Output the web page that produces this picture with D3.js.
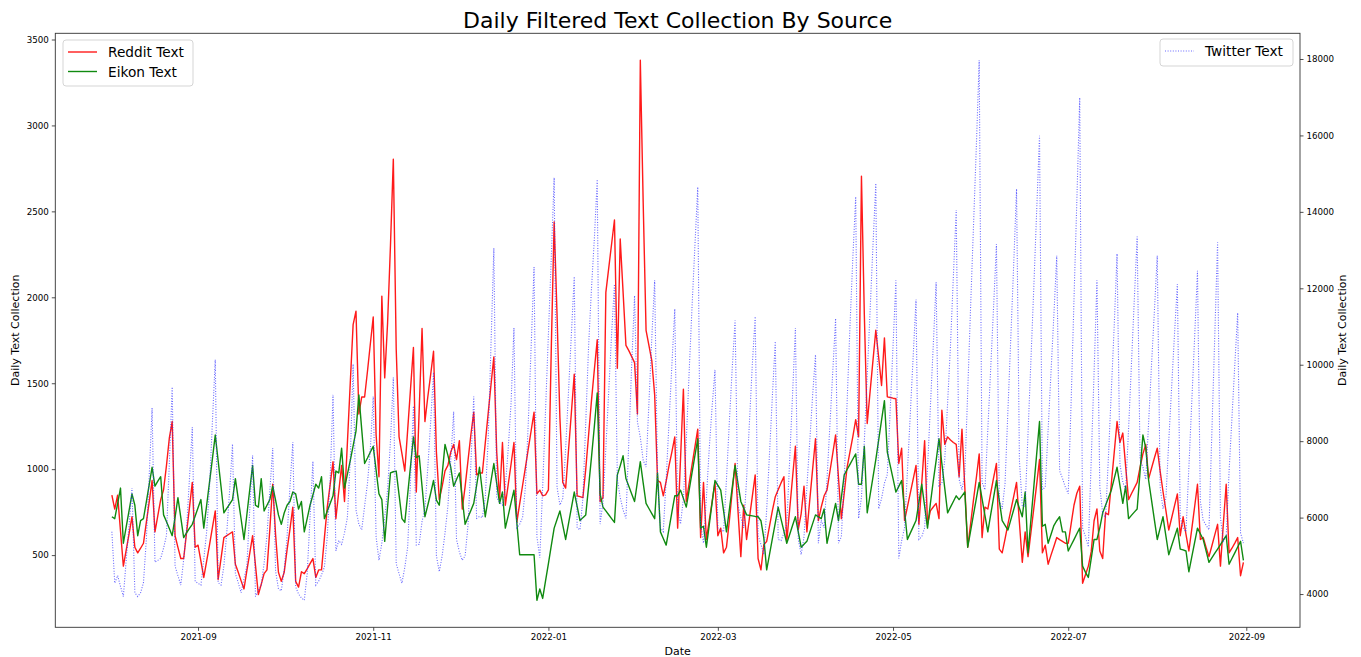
<!DOCTYPE html>
<html>
<head>
<meta charset="utf-8">
<script src="https://cdnjs.cloudflare.com/ajax/libs/d3/7.8.5/d3.min.js"></script>
<style>
  body { margin: 0; background: #fff; }
  text { font-family: "DejaVu Sans", sans-serif; fill: #000; }
</style>
</head>
<body>
<div id="chart"></div>
<script>
// daily values, first day is 2021-08-02, one row per week
const startDay = '2021-08-02';

const redditText = [
  849, 768, 849, 640, 436, 530, 625,
  723, 546, 513, 540, 569, 690, 810,
  934, 635, 730, 823, 880, 1020, 1180,
  1277, 613, 545, 480, 480, 630, 775,
  923, 546, 558, 465, 370, 465, 560,
  660, 757, 358, 480, 602, 613, 624,
  635, 447, 400, 350, 303, 410, 510,
  613, 440, 270, 330, 392, 414, 650,
  912, 620, 400, 347, 400, 530, 650,
  779, 347, 314, 403, 392, 420, 450,
  480, 370, 414, 414, 600, 779, 910,
  1044, 712, 870, 1022, 812, 1150, 1500,
  1841, 1919, 1321, 1420, 1420, 1570, 1730,
  1885, 1200, 956, 2007, 1531, 1850, 2300,
  2804, 1700, 1188, 1090, 989, 1230, 1470,
  1708, 867, 1340, 1819, 1277, 1420, 1550,
  1686, 1100, 823, 900, 990, 1022, 1100,
  1144, 1056, 1166, 768, 900, 1050, 1200,
  1332, 967, 978, 978, 1150, 1320, 1490,
  1653, 1100, 823, 1155, 790, 910, 1030,
  1155, 690, 800, 905, 1010, 1120, 1225,
  1332, 856, 878, 845, 850, 880, 1700,
  2439, 1900, 1300, 923, 890, 1110, 1330,
  1553, 845, 840, 834, 1000, 1200, 1400,
  1580, 1753, 812, 834, 2029, 2170, 2310,
  2450, 1587, 2339, 2030, 1720, 1690, 1655,
  1620, 1321, 3379, 2550, 1808, 1720, 1631,
  1432, 934, 923, 845, 930, 1020, 1100,
  1188, 657, 1060, 1465, 812, 918, 1024,
  1128, 1233, 602, 923, 591, 700, 810,
  923, 613, 657, 513, 546, 700, 870,
  1033, 760, 491, 790, 591, 716, 842,
  967, 480, 414, 560, 580, 670, 760,
  840, 880, 920, 956, 580, 765, 950,
  1133, 650, 740, 901, 635, 820, 1000,
  1177, 701, 780, 845, 878, 985, 1090,
  1199, 950, 712, 860, 1011, 1100, 1190,
  1288, 1188, 2704, 1900, 1266, 1450, 1630,
  1808, 1650, 1487, 1764, 1421, 1417, 1413,
  1410, 1033, 1122, 701, 780, 860, 940,
  1022, 679, 920, 1166, 679, 757, 780,
  801, 712, 1343, 1144, 1188, 1170, 1155,
  1144, 956, 1233, 890, 546, 680, 820,
  950, 1089, 602, 779, 768, 860, 950,
  1033, 535, 513, 595, 680, 760, 840,
  923, 690, 458, 635, 491, 630, 770,
  910, 1056, 513, 558, 447, 500, 550,
  602, 590, 580, 569, 569, 680, 790,
  860, 901, 336, 386, 436, 520, 700,
  768, 524, 480, 746, 735, 915, 1095,
  1277, 1155, 1210, 1015, 823, 857, 890,
  923, 1011, 1089, 1144, 945, 1005, 1065,
  1122, 989, 870, 760, 646, 716, 786,
  856, 613, 723, 620, 524, 650, 780,
  912, 591, 602, 545, 491, 553, 616,
  679, 436, 680, 912, 513, 540, 570,
  602, 380, 458
];

const eikonText = [
  723, 712, 800, 890, 569, 665, 760,
  856, 790, 613, 701, 712, 810, 910,
  1011, 901, 930, 956, 734, 695, 655,
  613, 720, 834, 718, 602, 630, 655,
  679, 727, 775, 823, 657, 790, 925,
  1060, 1199, 1050, 900, 746, 772, 797,
  823, 945, 827, 710, 591, 735, 880,
  1022, 790, 779, 945, 757, 790, 823,
  901, 820, 734, 679, 745, 790, 812,
  867, 856, 768, 812, 635, 712, 790,
  850, 912, 890, 956, 712, 756, 800,
  845, 989, 978, 1122, 890, 970, 1050,
  1135, 1222, 1432, 1230, 1033, 1065, 1100,
  1133, 995, 856, 823, 580, 780, 978,
  985, 989, 850, 712, 690, 855, 1020,
  1188, 1067, 1078, 900, 723, 790, 860,
  934, 820, 790, 970, 1144, 1080, 1011,
  901, 940, 978, 830, 679, 720, 760,
  801, 905, 1011, 870, 723, 826, 930,
  1033, 917, 801, 867, 657, 730, 805,
  878, 690, 502, 502, 502, 502, 502,
  502, 237, 303, 248, 350, 450, 555,
  657, 707, 757, 674, 591, 683, 775,
  867, 784, 701, 718, 734, 900, 1070,
  1250, 1443, 856, 779, 757, 735, 712,
  690, 967, 1020, 1078, 945, 900, 856,
  812, 928, 1044, 920, 801, 771, 741,
  712, 978, 635, 597, 558, 654, 750,
  845, 845, 878, 830, 779, 878, 978,
  1077, 1177, 657, 668, 546, 675, 805,
  934, 906, 878, 757, 635, 764, 893,
  1022, 917, 812, 773, 734, 731, 728,
  725, 723, 700, 600, 414, 505, 597,
  688, 779, 709, 639, 569, 620, 672,
  723, 635, 546, 563, 580, 631, 683,
  734, 723, 712, 768, 569, 646, 724,
  801, 701, 834, 967, 998, 1028, 1059,
  1089, 912, 912, 1133, 746, 849, 952,
  1056, 1170, 1285, 1399, 1100, 1022, 945,
  867, 900, 934, 762, 591, 628, 664,
  701, 806, 912, 785, 657, 800, 930,
  1050, 1177, 1033, 890, 746, 779, 812,
  845, 823, 845, 867, 546, 640, 735,
  829, 923, 827, 731, 635, 735, 834,
  934, 817, 701, 673, 646, 705, 764,
  823, 773, 723, 867, 513, 704, 895,
  1086, 1277, 668, 679, 569, 620, 672,
  700, 723, 635, 635, 524, 557, 590,
  624, 657, 436, 400, 370, 480, 591,
  591, 660, 746, 790, 834, 878, 945,
  1011, 906, 801, 901, 712, 731, 750,
  768, 984, 1199, 1122, 934, 820, 705,
  591, 657, 723, 612, 502, 554, 605,
  657, 535, 530, 524, 403, 488, 572,
  657, 624, 591, 525, 458, 484, 510,
  535, 561, 587, 613, 447, 480, 513,
  547, 580, 469
];

const twitterText = [
  5630, 4285, 4485, 4200, 3936, 4900, 5800,
  6776, 4036, 3936, 4036, 4300, 5430, 7100,
  8869, 4833, 4880, 4933, 5200, 5530, 7400,
  9416, 4734, 4480, 4235, 4900, 5700, 7000,
  8370, 4335, 4280, 4235, 4900, 5630, 6800,
  8500, 10134, 4300, 4235, 4734, 5600, 6700,
  7922, 4534, 4300, 4036, 4400, 4734, 6200,
  7623, 3936, 4100, 4235, 4800, 5530, 6700,
  7822, 4600, 4135, 4085, 4634, 5500, 6800,
  7972, 4185, 4000, 3900, 3836, 4534, 6000,
  7474, 4235, 4335, 4500, 4700, 5500, 7000,
  9217, 5132, 5400, 5300, 5600, 6000, 7500,
  10014, 6200, 5830, 5680, 6300, 6900, 7800,
  9167, 5500, 4883, 5330, 6000, 6727, 8000,
  9666, 4800, 4534, 4285, 4700, 5232, 7000,
  8918, 5282, 5300, 5900, 6228, 7300, 8500,
  9800, 5000, 4584, 5000, 5600, 6300, 7500,
  8770, 5430, 5100, 4883, 5000, 5800, 7400,
  9167, 5980, 6030, 6000, 6500, 8000, 10500,
  13054, 6528, 6400, 6328, 6800, 7800, 9000,
  10961, 5730, 5830, 6000, 6800, 8500, 10500,
  12555, 5500, 4950, 6800, 8800, 10800, 12800,
  14897, 6800, 6328, 6500, 7800, 9300, 10800,
  12306, 5730, 5680, 6500, 8500, 10500, 12000,
  13300, 14847, 5830, 6400, 7800, 9300, 10800,
  12107, 7000, 6527, 6200, 5980, 8000, 10000,
  11808, 8500, 8100, 7500, 7324, 9000, 10700,
  12207, 7000, 5730, 5630, 7000, 8500, 10000,
  11459, 6228, 5830, 6500, 8000, 9800, 11500,
  13100, 14648, 5830, 5332, 6500, 7800, 8900,
  9865, 5730, 5680, 5630, 7000, 8500, 9900,
  11160, 6328, 6000, 5730, 7000, 8500, 10000,
  11260, 5530, 5300, 5033, 6200, 7700, 9200,
  10612, 5430, 5400, 5600, 5830, 7500, 9200,
  10961, 5430, 5033, 5500, 6800, 8000, 9200,
  10264, 5332, 5930, 5730, 7000, 8400, 9800,
  11210, 5332, 5500, 7000, 9000, 11000, 12800,
  14399, 5980, 6528, 8000, 9700, 11400, 13100,
  14747, 6229, 6500, 6900, 7125, 8800, 10500,
  12207, 4932, 5400, 5730, 7200, 8700, 10200,
  11708, 5430, 5500, 5730, 7300, 8900, 10500,
  12157, 6826, 6900, 7500, 9000, 10500, 12300,
  14050, 7000, 6727, 7146, 9300, 11500, 13600,
  15700, 17966, 6926, 6727, 8300, 9900, 11500,
  13153, 6428, 6228, 6900, 8800, 10700, 12600,
  14598, 7500, 6300, 6300, 8200, 10100, 12000,
  14000, 15993, 6727, 6800, 8300, 9800, 11300,
  12854, 7225, 7025, 6800, 6627, 9000, 11700,
  14300, 16989, 5730, 5500, 5232, 7500, 9800,
  12207, 6800, 6100, 6000, 7600, 9300, 11000,
  12904, 7400, 6926, 6727, 8300, 10000, 11700,
  13353, 7524, 7324, 7000, 8500, 10000, 11400,
  12854, 6800, 6228, 6500, 8000, 9400, 10800,
  12107, 6000, 5730, 5630, 7300, 9000, 10700,
  12456, 6428, 5930, 5800, 5680, 8200, 10700,
  13203, 6000, 5382, 5500, 7200, 8600, 10000,
  11360, 5600, 5332
];

const leftTicks = [500, 1000, 1500, 2000, 2500, 3000, 3500];
const rightTicks = [4000, 6000, 8000, 10000, 12000, 14000, 16000, 18000];
const monthTicks = ['2021-09', '2021-11', '2022-01', '2022-03', '2022-05', '2022-07', '2022-09'];

const width = 1361, height = 657;
const margin = {top: 33.3, right: 61, bottom: 29.7, left: 55.3};
const innerW = width - margin.left - margin.right;
const innerH = height - margin.top - margin.bottom;

const parseDay = d3.timeParse('%Y-%m-%d');
const parseMonth = d3.timeParse('%Y-%m');
const day0 = parseDay(startDay);
const dates = redditText.map((_, i) => d3.timeDay.offset(day0, i));

// matplotlib style 5% padding round the data
function padded(lo, hi) {
    const pad = (hi - lo) * 0.05;
    return [lo - pad, hi + pad];
}

const t0 = +dates[0], t1 = +dates[dates.length - 1];
const x = d3.scaleTime()
    .domain(padded(t0, t1).map(t => new Date(t)))
    .range([0, innerW]);

const leftExt = d3.extent(redditText.concat(eikonText));
const yLeft = d3.scaleLinear().domain(padded(leftExt[0], leftExt[1])).range([innerH, 0]);

const rightExt = d3.extent(twitterText);
const yRight = d3.scaleLinear().domain(padded(rightExt[0], rightExt[1])).range([innerH, 0]);

const svg = d3.select('#chart').append('svg')
    .attr('width', width)
    .attr('height', height);

const g = svg.append('g').attr('transform', `translate(${margin.left},${margin.top})`);

const plot = g.append('g');

const leftLine = d3.line().x((d, i) => x(dates[i])).y(d => yLeft(d));
const twLine = d3.line().x((d, i) => x(dates[i])).y(d => yRight(d));

const redColor = '#ff1a1a';
const greenColor = '#108a10';
const blueColor = '#2e2eff';
const dots = '1,1.6';

plot.append('path')
    .datum(redditText)
    .attr('d', leftLine)
    .attr('fill', 'none')
    .attr('stroke', redColor)
    .attr('stroke-width', 1.4)
    .attr('stroke-linejoin', 'round');

plot.append('path')
    .datum(eikonText)
    .attr('d', leftLine)
    .attr('fill', 'none')
    .attr('stroke', greenColor)
    .attr('stroke-width', 1.4)
    .attr('stroke-linejoin', 'round');

plot.append('path')
    .datum(twitterText)
    .attr('d', twLine)
    .attr('fill', 'none')
    .attr('stroke', blueColor)
    .attr('stroke-opacity', 0.72)
    .attr('stroke-width', 1.1)
    .attr('stroke-dasharray', dots);

// axes
const fontTick = '8.7px';

const xAxis = g.append('g')
    .attr('transform', `translate(0,${innerH})`)
    .call(d3.axisBottom(x)
        .tickValues(monthTicks.map(parseMonth))
        .tickFormat(d3.timeFormat('%Y-%m'))
        .tickSize(3.5)
        .tickSizeOuter(0)
        .tickPadding(3));

const leftAxis = g.append('g')
    .call(d3.axisLeft(yLeft).tickValues(leftTicks).tickFormat(d3.format('d'))
        .tickSize(3.5).tickSizeOuter(0).tickPadding(3));

const rightAxis = g.append('g')
    .attr('transform', `translate(${innerW},0)`)
    .call(d3.axisRight(yRight).tickValues(rightTicks).tickFormat(d3.format('d'))
        .tickSize(3.5).tickSizeOuter(0).tickPadding(3));

[xAxis, leftAxis, rightAxis].forEach(a => {
    a.select('.domain').remove();
    a.selectAll('.tick line').attr('stroke', '#222').attr('stroke-width', 0.8);
    a.selectAll('.tick text')
        .style('font-family', '"DejaVu Sans", sans-serif')
        .style('font-size', fontTick)
        .attr('fill', '#111');
});

// frame
g.append('rect')
    .attr('width', innerW)
    .attr('height', innerH)
    .attr('fill', 'none')
    .attr('stroke', '#333')
    .attr('stroke-width', 0.9);

// titles
svg.append('text')
    .attr('x', margin.left + innerW / 2)
    .attr('y', 28)
    .attr('text-anchor', 'middle')
    .style('font-size', '22px')
    .text('Daily Filtered Text Collection By Source');

svg.append('text')
    .attr('x', margin.left + innerW / 2)
    .attr('y', 655)
    .attr('text-anchor', 'middle')
    .style('font-size', '11px')
    .text('Date');

svg.append('text')
    .attr('transform', `translate(19,${margin.top + innerH / 2}) rotate(-90)`)
    .attr('text-anchor', 'middle')
    .style('font-size', '11px')
    .text('Daily Text Collection');

svg.append('text')
    .attr('transform', `translate(1346,${margin.top + innerH / 2}) rotate(-90)`)
    .attr('text-anchor', 'middle')
    .style('font-size', '11px')
    .text('Daily Text Collection');

// legends
function legend(x0, y0, w, items) {
    const lg = svg.append('g').attr('transform', `translate(${x0},${y0})`);
    lg.append('rect')
        .attr('width', w)
        .attr('height', 8 + items.length * 19)
        .attr('rx', 3)
        .attr('fill', 'white')
        .attr('fill-opacity', 0.8)
        .attr('stroke', '#d5d5d5')
        .attr('stroke-width', 1);
    items.forEach((it, i) => {
        const yy = 12 + i * 19.5;
        lg.append('line')
            .attr('x1', 5).attr('x2', 34)
            .attr('y1', yy).attr('y2', yy)
            .attr('stroke', it.color)
            .attr('stroke-width', it.dash ? 1.1 : 1.4)
            .attr('stroke-opacity', it.dash ? 0.72 : 1)
            .attr('stroke-dasharray', it.dash || null);
        lg.append('text')
            .attr('x', 45)
            .attr('y', yy + 5)
            .style('font-size', '13.7px')
            .text(it.label);
    });
}

legend(63, 40, 130, [
    {label: 'Reddit Text', color: redColor},
    {label: 'Eikon Text', color: greenColor}
]);

legend(1160, 39, 133, [
    {label: 'Twitter Text', color: blueColor, dash: dots}
]);
</script>
</body>
</html>
